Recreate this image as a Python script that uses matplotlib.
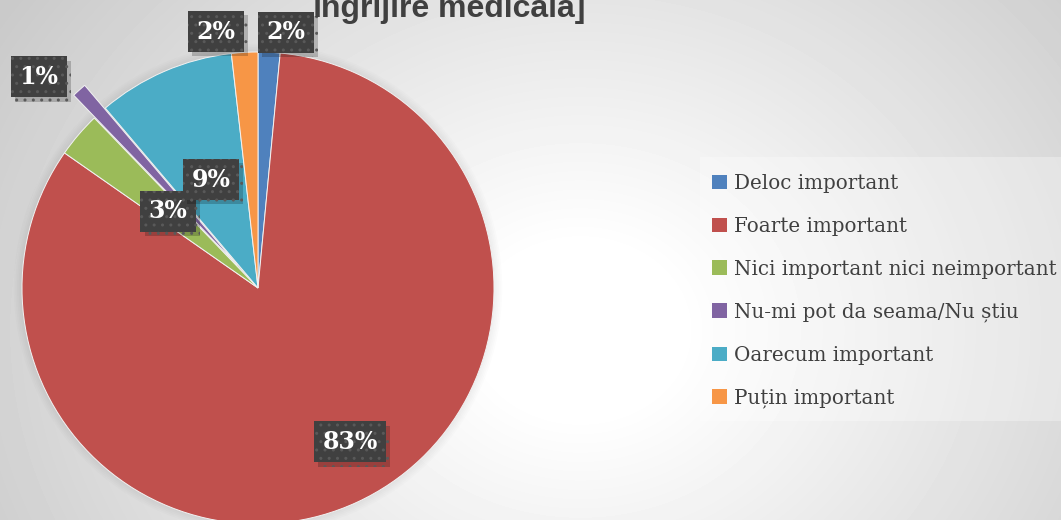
import numpy as np
import matplotlib
matplotlib.use("Agg")
import matplotlib.pyplot as plt
import matplotlib.patheffects as pe
from matplotlib.patches import Patch, Circle, Rectangle

# data
categories = ["Deloc important", "Foarte important", "Nici important nici neimportant",
              "Nu-mi pot da seama/Nu știu", "Oarecum important", "Puțin important"]
shares = [1.5, 83.2, 3.1, 1.0, 9.4, 1.8]
colors = ["#4F81BD", "#C0504D", "#9BBB59", "#8064A2", "#4BACC6", "#F79646"]
explode = [0, 0, 0, 0.13, 0, 0]
title = "îngrijire medicală]"

# where each % label sits: radius (x pie radius) and angle nudge in degrees
label_r = [1.09, 0.76, 0.50, 1.29, 0.50, 1.10]
label_da = [-3.5, 6, 0, 4, 0, 6]

W, H = 1061, 520
cx, cy, R = 258, 520 - 288, 236

fig = plt.figure(figsize=(W / 100, H / 100), dpi=100)

# background: soft radial gradient
bg = fig.add_axes([0, 0, 1, 1])
yy, xx = np.mgrid[0:H, 0:W]
d = np.sqrt((xx - 580) ** 2 + ((yy - 330) / 0.85) ** 2)
shade = np.clip(1.0 - (d - 100) / 560 * 0.2, 0.79, 1.0)
bg.imshow(shade, cmap="gray", vmin=0, vmax=1, extent=[0, W, H, 0], aspect="auto")
bg.axis("off")

ax = fig.add_axes([0, 0, 1, 1])
ax.axis("off")

# soft shadow round the pie
for k in range(6):
    ax.add_patch(Circle((0, 0), 1.0 + 0.007 * k, color="black", alpha=0.012, lw=0, zorder=0))

wedges, _ = ax.pie(shares, colors=colors, startangle=90, counterclock=False, explode=explode,
                   radius=1.0, wedgeprops=dict(edgecolor="#f2f2f2", linewidth=0.7),
                   frame=False)
ax.set_xlim((0 - cx) / R, (W - cx) / R)
ax.set_ylim((0 - cy) / R, (H - cy) / R)
ax.set_aspect("auto")

for w, v, r, da in zip(wedges, shares, label_r, label_da):
    ang = np.deg2rad((w.theta1 + w.theta2) / 2 + da)
    x, y = r * np.cos(ang), r * np.sin(ang)
    t = ax.text(x, y, f"{v:.0f}%", ha="center", va="center", fontsize=17, fontweight="bold",
                family="DejaVu Serif", color="white",
                bbox=dict(boxstyle="square,pad=0.36", fc="#404040", ec="#595959", lw=0,
                          hatch=".."),
                zorder=6)
    t.get_bbox_patch().set_path_effects([
        pe.SimplePatchShadow(offset=(3, -3), shadow_rgbFace="black", alpha=0.2),
        pe.Normal()])

fig.text(449 / W, 1 - 17 / H, title, ha="center", va="baseline", fontsize=23,
         fontweight="bold", family="Liberation Sans", color="#404040")

# legend panel
fig.patches.append(Rectangle((700 / W, 1 - 421 / H), (W - 700) / W, (421 - 157) / H,
                             transform=fig.transFigure, fc="white", alpha=0.3, ec="none"))
handles = [Patch(facecolor=c, edgecolor="none") for c in colors]
leg = fig.legend(handles, categories, loc="upper left", bbox_to_anchor=(704 / W, 1 - 166 / H),
                 frameon=False, prop=dict(family="DejaVu Serif", size=14.3),
                 handlelength=0.75, handleheight=0.75, handletextpad=0.35, labelspacing=1.2,
                 borderaxespad=0)
for t in leg.get_texts():
    t.set_color("#404040")

fig.savefig("out.png", dpi=100)
